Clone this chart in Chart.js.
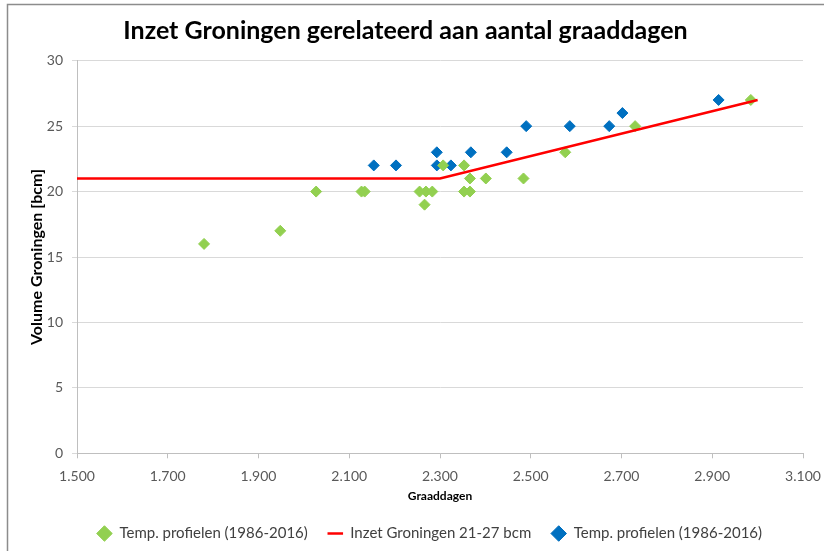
<!DOCTYPE html>
<html>
<head>
<meta charset="utf-8">
<script src="https://cdn.jsdelivr.net/npm/chart.js@4.4.1/dist/chart.umd.min.js"></script>
<style>
  html, body { margin: 0; padding: 0; background: #fff; }
  #wrap { width: 824px; height: 551px; position: relative; }
</style>
</head>
<body>
<div id="wrap"><canvas id="c" width="824" height="551"></canvas></div>
<script>
const chartTitle = 'Inzet Groningen gerelateerd aan aantal graaddagen';
const xTitle = 'Graaddagen';
const yTitle = 'Volume Groningen [bcm]';
const seriesNames = ['Temp. profielen (1986-2016)', 'Inzet Groningen 21-27 bcm', 'Temp. profielen (1986-2016)'];

// Green series: graaddagen (x) and volume (y)
const greenX = [1780, 1948, 2027, 2127, 2134, 2255, 2266, 2269, 2283, 2307, 2353, 2353, 2366, 2366, 2401, 2484, 2576, 2730, 2985];
const greenY = [16,   17,   20,   20,   20,   20,   19,   20,   20,   22,   22,   20,   20,   21,   21,   21,   23,   25,   27];

// Blue series
const blueX = [2154, 2203, 2293, 2293, 2324, 2368, 2447, 2490, 2586, 2673, 2702, 2914];
const blueY = [22,   22,   23,   22,   22,   23,   23,   25,   25,   25,   26,   27];

// Red line: Inzet Groningen 21-27 bcm
const lineX = [1500, 2300, 3000];
const lineY = [21, 21, 27];

// Axis ranges / ticks
const xMin = 1500, xMax = 3100, xStep = 200;
const yMin = 0, yMax = 30, yStep = 5;

const toPts = (xs, ys) => xs.map((x, i) => ({ x: x, y: ys[i] }));

const FONT = 'Lato, "Open Sans", sans-serif';
const GREEN = '#92D050', BLUE = '#0070C0', RED = '#FF0000';

const framePlugin = {
  id: 'frame',
  afterLayout(chart) {
    // centre the legend row under the plot like the original
    if (chart.legend) { chart.legend.left += 48; }
  },
  beforeDraw(chart) {
    const ctx = chart.ctx;
    ctx.save();
    ctx.fillStyle = '#fff';
    ctx.fillRect(0, 0, chart.width, chart.height);
    ctx.strokeStyle = '#8c8c8c';
    ctx.lineWidth = 1.5;
    ctx.beginPath();
    ctx.moveTo(7.5, chart.height);
    ctx.lineTo(7.5, 4.5);
    ctx.lineTo(chart.width, 4.5);
    ctx.stroke();
    ctx.restore();
  }
};

new Chart(document.getElementById('c'), {
  type: 'scatter',
  data: {
    datasets: [
      {
        label: seriesNames[0],
        data: toPts(greenX, greenY),
        backgroundColor: GREEN,
        borderColor: GREEN,
        pointStyle: 'rectRot',
        pointRadius: 5.5,
        borderWidth: 1,
        order: 2
      },
      {
        label: seriesNames[1],
        data: toPts(lineX, lineY),
        showLine: true,
        borderColor: RED,
        backgroundColor: RED,
        borderWidth: 2.5,
        pointRadius: 0,
        pointStyle: 'line',
        order: 1
      },
      {
        label: seriesNames[2],
        data: toPts(blueX, blueY),
        backgroundColor: BLUE,
        borderColor: BLUE,
        pointStyle: 'rectRot',
        pointRadius: 5.5,
        borderWidth: 1,
        order: 3
      }
    ]
  },
  options: {
    responsive: false,
    animation: false,
    layout: { padding: { left: 8, right: 21, top: 5, bottom: 0 } },
    plugins: {
      title: {
        display: true,
        text: chartTitle,
        color: '#000',
        font: { family: FONT, size: 25, weight: 'bold' },
        padding: { top: 11, bottom: 14.7 }
      },
      legend: {
        display: true,
        position: 'bottom',
        labels: {
          usePointStyle: true,
          color: '#404040',
          font: { family: FONT, size: 15 },
          padding: 20,
          boxHeight: 11,
          sort: (a, b) => a.datasetIndex - b.datasetIndex
        }
      },
      tooltip: { enabled: false }
    },
    scales: {
      x: {
        type: 'linear',
        min: xMin, max: xMax,
        afterBuildTicks(scale) {
          const t = [];
          for (let v = xMin; v <= xMax; v += xStep) t.push({ value: v });
          scale.ticks = t;
        },
        ticks: {
          color: '#595959',
          font: { family: FONT, size: 14 },
          padding: 10,
          maxRotation: 0,
          callback: v => v.toLocaleString('nl-NL')
        },
        grid: { drawOnChartArea: false, drawTicks: true, tickLength: 5, color: '#BFBFBF' },
        border: { color: '#BFBFBF', width: 1 },
        title: {
          display: true,
          text: xTitle,
          color: '#000',
          font: { family: FONT, size: 12, weight: 'bold' },
          padding: { top: 2, bottom: 2.8 }
        },
        afterFit(scale) {
          scale.height = 52.7;
          scale.paddingRight = 0;
          scale.paddingLeft = 0;
        }
      },
      y: {
        type: 'linear',
        min: yMin, max: yMax,
        ticks: {
          stepSize: yStep,
          color: '#595959',
          font: { family: FONT, size: 14 },
          padding: 9
        },
        grid: { drawTicks: true, tickLength: 5, color: '#D9D9D9' },
        border: { color: '#BFBFBF', width: 1 },
        title: {
          display: true,
          text: yTitle,
          color: '#000',
          font: { family: FONT, size: 16, weight: 'bold' },
          padding: { top: 19, bottom: 0 }
        },
        afterFit(scale) { scale.width = 69; }
      }
    }
  },
  plugins: [framePlugin]
});
</script>
</body>
</html>
